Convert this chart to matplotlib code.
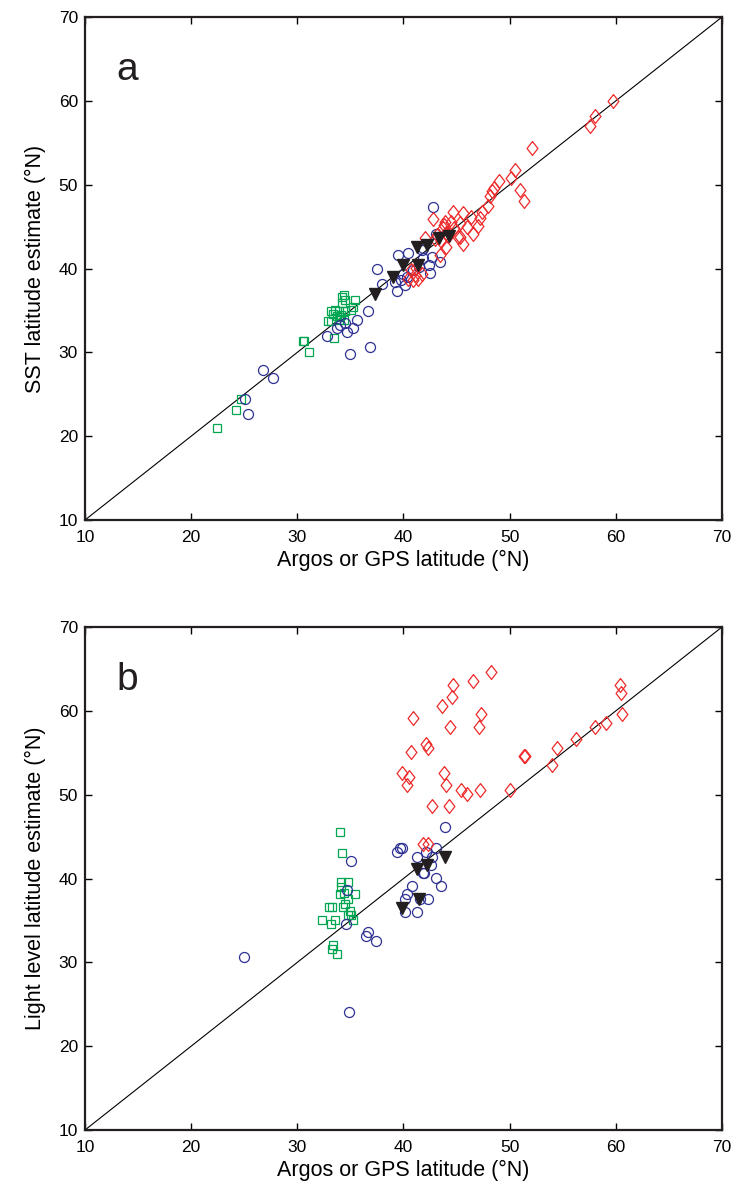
import matplotlib
matplotlib.use("Agg")
import matplotlib.pyplot as plt

plt.rcParams['font.family'] = ['Liberation Sans', 'DejaVu Sans']

# ---- panel a: SST latitude estimate vs Argos/GPS latitude ----
sst_sq_x = [22.4, 24.2, 24.65, 30.5, 30.6, 31.1, 33.5, 32.85, 33.2, 33.9, 34.4, 33.35, 33.7,
            34.1, 33.15, 33.55, 33.9, 34.5, 34.2, 34.5, 34.25, 34.4, 35.4, 35.25, 35.1, 34.0]
sst_sq_y = [21.0, 23.1, 24.4, 31.4, 31.3, 30.0, 31.7, 33.7, 33.7, 33.9, 33.9, 34.6, 34.3,
            34.5, 34.9, 35.05, 34.9, 34.9, 35.9, 36.3, 36.65, 36.9, 36.25, 35.45, 35.05, 34.2]

sst_circ_x = [25.1, 25.35, 26.8, 27.7, 32.75, 33.7, 34.0, 34.5, 34.65, 35.2, 35.6, 36.65,
              34.95, 36.8, 37.5, 38.0, 39.2, 39.4, 39.8, 40.1, 40.3, 39.5, 40.45, 40.9,
              41.5, 41.7, 41.85, 42.4, 42.5, 42.65, 43.45, 42.75, 43.05, 41.8, 40.0]
sst_circ_y = [24.4, 22.7, 27.9, 27.0, 32.0, 32.85, 33.25, 33.5, 32.45, 32.85, 33.85, 34.95,
              29.8, 30.6, 39.9, 38.1, 38.4, 37.3, 38.6, 38.0, 39.0, 41.6, 41.8, 39.8,
              40.2, 42.2, 41.2, 40.4, 39.5, 41.4, 40.8, 47.3, 44.1, 42.4, 39.4]

sst_dia_x = [59.7, 58.0, 57.6, 52.1, 50.55, 50.1, 49.0, 48.5, 48.3, 48.15, 50.95, 51.35,
             47.95, 47.35, 47.2, 47.05, 46.55, 46.0, 46.4, 45.6, 44.7, 45.3, 44.5, 44.8,
             45.1, 45.6, 43.9, 43.8, 43.75, 42.75, 42.0, 44.05, 43.4, 45.3, 44.2, 43.5,
             43.0, 40.45, 41.05, 41.4, 40.75, 41.7, 41.2, 40.9, 44.0, 43.2]
sst_dia_y = [60.0, 58.2, 57.0, 54.4, 51.8, 50.8, 50.4, 49.6, 49.2, 48.7, 49.4, 48.1,
             47.5, 46.8, 46.0, 45.1, 44.1, 44.9, 46.2, 46.6, 46.8, 45.4, 45.6, 44.8,
             43.8, 42.9, 45.6, 45.2, 44.8, 45.9, 43.6, 42.6, 41.6, 43.8, 43.9, 43.3,
             43.5, 38.8, 39.2, 38.8, 39.8, 39.4, 40.1, 38.6, 44.2, 44.0]

sst_tri_x = [37.3, 39.0, 40.0, 41.4, 41.25, 42.2, 43.3, 44.3]
sst_tri_y = [37.0, 39.0, 40.4, 40.4, 42.6, 42.8, 43.6, 43.9]

# ---- panel b: light level latitude estimate vs Argos/GPS latitude ----
ll_sq_x = [34.0, 34.2, 34.15, 34.8, 34.15, 34.0, 35.4, 34.8, 34.3, 33.0, 33.3, 34.95,
           35.1, 34.8, 32.3, 33.55, 33.2, 35.2, 33.4, 33.3, 33.7, 34.4, 34.5]
ll_sq_y = [45.55, 43.05, 39.6, 39.6, 39.0, 38.1, 38.1, 37.6, 36.6, 36.6, 36.6, 36.15,
           35.6, 35.6, 35.1, 35.1, 34.55, 35.1, 32.05, 31.55, 31.05, 38.3, 37.0]

ll_circ_x = [25.0, 34.85, 35.1, 34.65, 34.55, 36.7, 36.5, 37.45, 39.35, 39.7, 39.9,
             41.25, 42.1, 42.65, 43.1, 43.95, 42.55, 41.8, 40.85, 40.3, 40.15, 40.15,
             41.25, 41.55, 42.35, 43.05, 43.5, 41.9]
ll_circ_y = [30.6, 24.05, 42.1, 38.6, 34.55, 33.65, 33.1, 32.55, 43.2, 43.6, 43.6,
             42.6, 43.2, 42.6, 43.6, 46.1, 41.6, 40.6, 39.1, 38.1, 37.6, 36.0,
             36.0, 37.55, 37.6, 40.1, 39.1, 40.7]

ll_dia_x = [48.2, 46.55, 44.65, 44.6, 43.6, 40.9, 47.3, 47.1, 44.4, 42.1, 42.3, 40.75,
            39.9, 40.5, 40.35, 43.8, 44.05, 45.45, 46.0, 47.2, 42.7, 44.3, 50.05, 51.4,
            51.45, 54.0, 54.45, 56.25, 58.05, 59.1, 60.55, 60.5, 60.35, 41.85, 42.3]
ll_dia_y = [64.6, 63.6, 63.1, 61.6, 60.6, 59.1, 59.6, 58.1, 58.1, 56.1, 55.6, 55.1,
            52.6, 52.1, 51.1, 52.6, 51.1, 50.6, 50.05, 50.55, 48.65, 48.65, 50.6, 54.6,
            54.65, 53.55, 55.6, 56.6, 58.1, 58.6, 59.6, 62.1, 63.1, 44.15, 44.15]

ll_tri_x = [43.95, 42.2, 41.25, 41.5, 39.9]
ll_tri_y = [42.6, 41.6, 41.1, 37.5, 36.5]

RED = '#ee2a2a'
GREEN = '#00a651'
BLUE = '#2e3192'
BLACK = '#231f20'

# diamond a bit wider than matplotlib's thin diamond
DIAMOND = [(0, 1), (0.78, 0), (0, -1), (-0.78, 0), (0, 1)]


def draw_panel(ax, sq, circ, dia, tri, letter, ylabel):
    ax.plot([10, 70], [10, 70], color='black', lw=0.8, zorder=1)
    ax.plot(sq[0], sq[1], ls='none', marker='s', ms=6.2, mfc='none', mec=GREEN, mew=0.9)
    ax.plot(circ[0], circ[1], ls='none', marker='o', ms=7.2, mfc='none', mec=BLUE, mew=0.9)
    ax.plot(dia[0], dia[1], ls='none', marker=DIAMOND, ms=10, mfc='none', mec=RED, mew=0.9)
    ax.plot(tri[0], tri[1], ls='none', marker='v', ms=9, color=BLACK)

    ax.set_xlim(10, 70)
    ax.set_ylim(10, 70)
    ax.set_xticks(range(10, 71, 10))
    ax.set_yticks(range(10, 71, 10))
    ax.tick_params(direction='in', top=True, right=True, length=5, width=1,
                   labelsize=12.5)
    ax.tick_params(axis='x', pad=7)
    ax.tick_params(axis='y', pad=5)
    for sp in ax.spines.values():
        sp.set_linewidth(1.6)
        sp.set_color(BLACK)
    ax.set_xlabel('Argos or GPS latitude (°N)', fontsize=15.5, labelpad=4)
    ax.set_ylabel(ylabel, fontsize=15.5, labelpad=9)
    ax.text(0.05, 0.895, letter, transform=ax.transAxes, fontsize=28,
            va='center', ha='left', color=BLACK)


fig = plt.figure(figsize=(7.41, 11.84), dpi=100)
ax_a = fig.add_axes([0.1147, 0.5608, 0.8596, 0.4248])
ax_b = fig.add_axes([0.1147, 0.0456, 0.8596, 0.4248])

draw_panel(ax_a, (sst_sq_x, sst_sq_y), (sst_circ_x, sst_circ_y),
           (sst_dia_x, sst_dia_y), (sst_tri_x, sst_tri_y),
           'a', 'SST latitude estimate (°N)')
draw_panel(ax_b, (ll_sq_x, ll_sq_y), (ll_circ_x, ll_circ_y),
           (ll_dia_x, ll_dia_y), (ll_tri_x, ll_tri_y),
           'b', 'Light level latitude estimate (°N)')

fig.savefig('out.png', dpi=100)
plt.close(fig)
